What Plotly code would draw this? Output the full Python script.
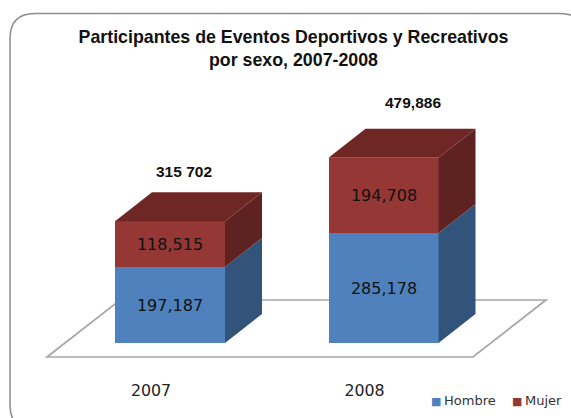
import plotly.graph_objects as go

years = ["2007", "2008"]
hombre = [197187, 285178]
mujer = [118515, 194708]
totals = [315702, 479886]
total_labels = ["315 702", "479,886"]
series_names = ["Hombre", "Mujer"]

W, H = 571, 418
plot_bottom = 379
base_py = 343
per_px = 2592.0
cat_px = 213.5
c0_px = 170.0

BLUE, BLUE_SIDE = "#4f81bd", "#33547a"
RED, RED_SIDE, RED_TOP = "#953735", "#5e2220", "#6e2725"
LINE = "#a6a6a6"

xs = [0, 1]
bw = 110 / cat_px
dx = 37 / cat_px
dy = 29 * per_px

fig = go.Figure()


def poly(px, py, color):
    fig.add_trace(go.Scatter(x=px, y=py, mode="lines", fill="toself", fillcolor=color,
                             line=dict(color=color, width=0), showlegend=False, hoverinfo="skip"))


for x, h, m in zip(xs, hombre, mujer):
    r = x + bw / 2
    l = x - bw / 2
    t = h + m
    poly([r, r + dx, r + dx, r], [0, dy, h + dy, h], BLUE_SIDE)
    poly([r, r + dx, r + dx, r], [h, h + dy, t + dy, t], RED_SIDE)
    poly([l, r, r + dx, l + dx], [t, t, t + dy, t + dy], RED_TOP)

label_font = dict(family="DejaVu Sans", size=16, color="#111111")
fig.add_trace(go.Bar(x=xs, y=hombre, name=series_names[0], marker=dict(color=BLUE, line=dict(width=0)), width=bw,
                     text=[f"{v:,}" for v in hombre], textposition="inside", insidetextanchor="middle",
                     textangle=0, insidetextfont=label_font, constraintext="none", showlegend=False))
fig.add_trace(go.Bar(x=xs, y=mujer, name=series_names[1], marker=dict(color=RED, line=dict(width=0)), width=bw,
                     text=[f"{v:,}" for v in mujer], textposition="inside", insidetextanchor="middle",
                     textangle=0, insidetextfont=label_font, constraintext="none", showlegend=False))

shifts = [(14, 50), (29.5, 55)]
for x, t, lab, (sx, sy) in zip(xs, totals, total_labels, shifts):
    fig.add_annotation(x=x, y=t, text=f"<b>{lab}</b>", showarrow=False, xshift=sx, yshift=sy,
                       font=dict(family="Liberation Sans", size=15.5, color="#111111"))


def py2p(py):
    return (plot_bottom - py) / plot_bottom


# legend, drawn as text because the native swatch gap is too wide for this space
leg_font = dict(family="DejaVu Sans", size=13, color="#333333")
for name, color, px in zip(series_names, [BLUE, RED], [428.5, 510]):
    fig.add_annotation(xref="paper", yref="paper", x=px / W, y=py2p(400), xanchor="left", yanchor="middle",
                       showarrow=False, font=leg_font,
                       text=f'<span style="color:{color};font-size:11px">■</span>\u2009{name}')

L, T, B, R = 10, 13.5, 430, 585
rad = 25
border = (f"M {(L+rad)/W} {py2p(T)} L {(R-rad)/W} {py2p(T)} Q {R/W} {py2p(T)} {R/W} {py2p(T+rad)} "
          f"L {R/W} {py2p(B-rad)} Q {R/W} {py2p(B)} {(R-rad)/W} {py2p(B)} L {(L+rad)/W} {py2p(B)} "
          f"Q {L/W} {py2p(B)} {L/W} {py2p(B-rad)} L {L/W} {py2p(T+rad)} Q {L/W} {py2p(T)} {(L+rad)/W} {py2p(T)} Z")

# floor plate, below the traces
fl = -14 * per_px
fb = fl + 57 * per_px
fpx = [(p - c0_px) / cat_px for p in (47, 473, 546, 120)]
floor = f"M {fpx[0]} {fl} L {fpx[1]} {fl} L {fpx[2]} {fb} L {fpx[3]} {fb} Z"

fig.update_layout(
    width=W, height=H, barmode="stack", bargap=0,
    margin=dict(l=0, r=0, t=0, b=H - plot_bottom, autoexpand=False),
    paper_bgcolor="white", plot_bgcolor="rgba(0,0,0,0)", showlegend=False,
    title=dict(text="<b>Participantes de Eventos Deportivos y Recreativos<br>por sexo, 2007-2008</b>",
               x=293.5 / W, xanchor="center", y=1 - 42.5 / H, yanchor="top",
               font=dict(family="Liberation Sans", size=17.8, color="#111111")),
    xaxis=dict(range=[-c0_px / cat_px, (W - c0_px) / cat_px], showgrid=False, zeroline=False, showline=False,
               tickmode="array", tickvals=[x - 19 / cat_px for x in xs], ticktext=years, ticks="",
               tickfont=dict(family="DejaVu Sans", size=15.8, color="#222222")),
    yaxis=dict(range=[-(plot_bottom - base_py) * per_px, base_py * per_px], visible=False),
    shapes=[dict(type="path", xref="paper", yref="paper", path=border, line=dict(color="#8c8c8c", width=1.5),
                 layer="below"),
            dict(type="path", xref="x", yref="y", path=floor, fillcolor="white", line=dict(color=LINE, width=1.7),
                 layer="below")],
)

fig.write_html("out.html", post_script="document.body.style.margin='0';document.body.style.overflow='hidden';",
               config=dict(displayModeBar=False))
